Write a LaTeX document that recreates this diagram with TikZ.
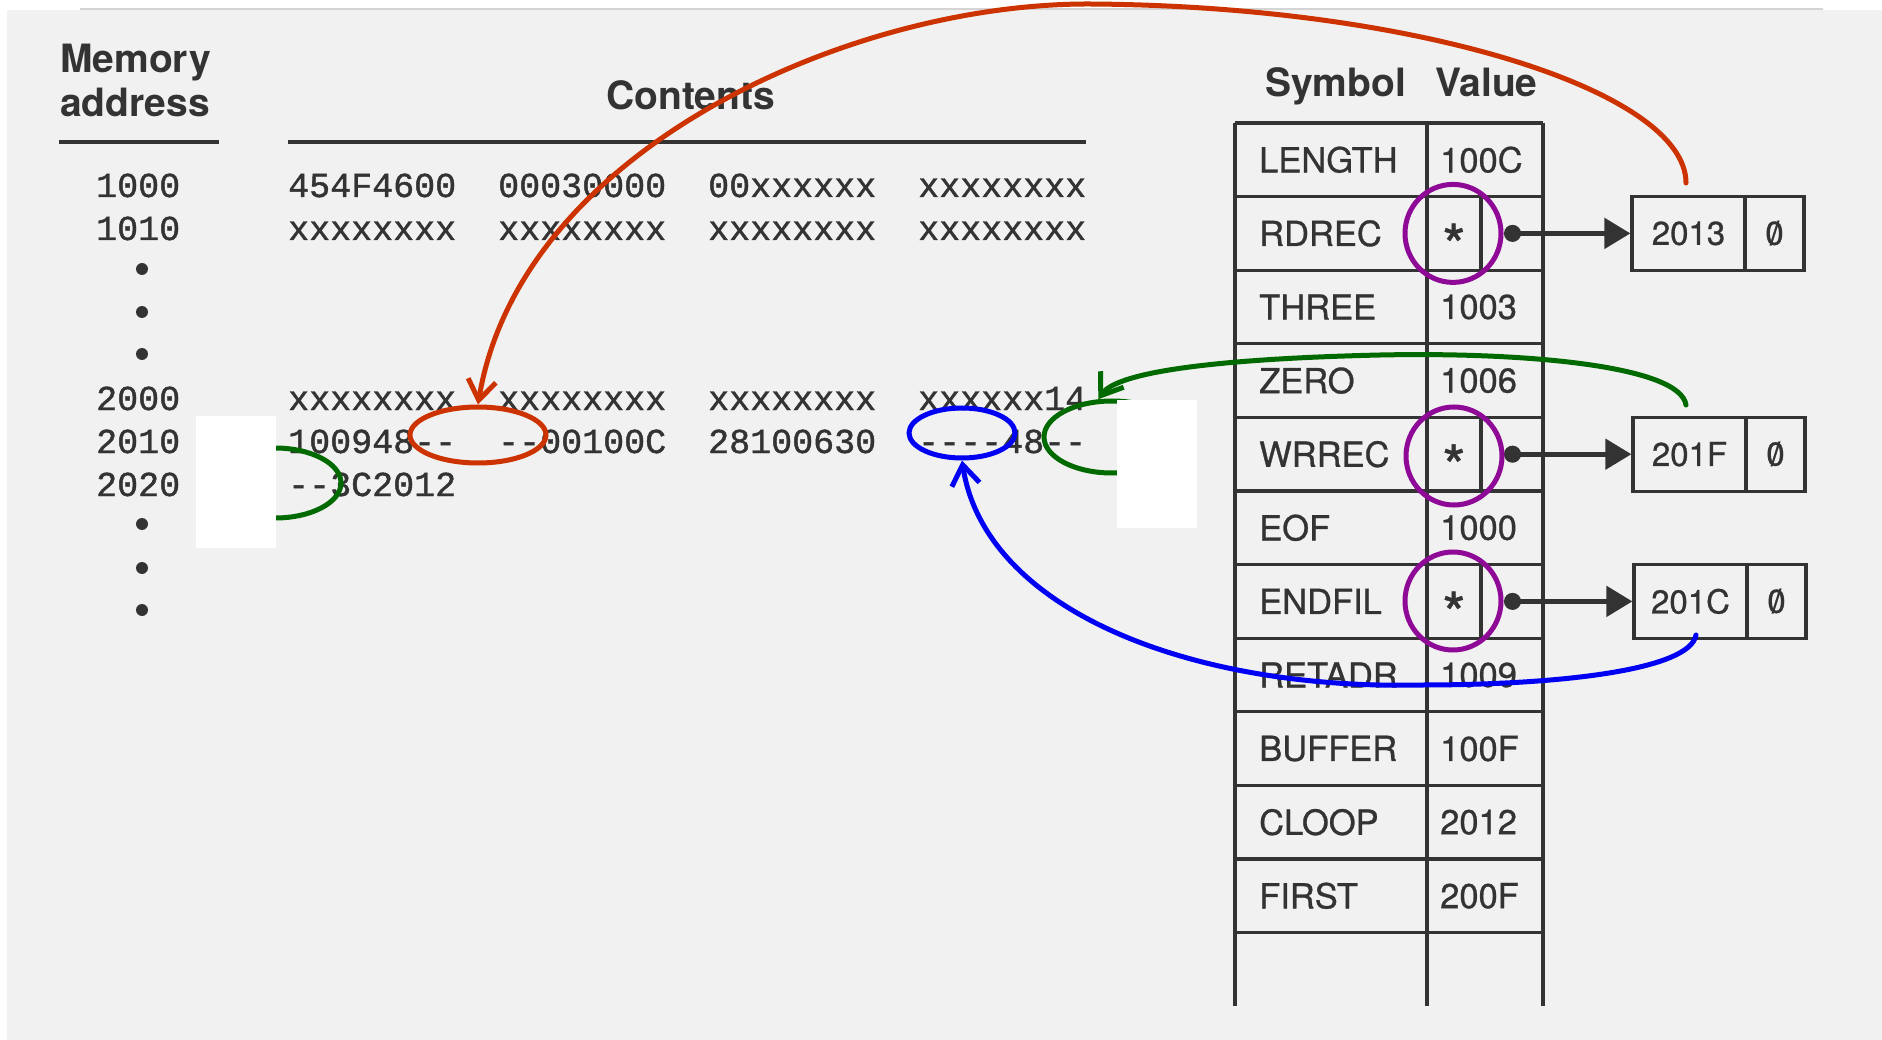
\documentclass[tikz,border=0pt]{standalone}
\usepackage{fontspec}
\setmainfont{TeX Gyre Heros}
\newfontfamily\memfont{Liberation Mono}[FakeBold=1.2]
\newfontfamily\tblfont{TeX Gyre Heros}[FakeBold=0.8]
\usetikzlibrary{arrows.meta,shapes.geometric}
\definecolor{ink}{HTML}{333333}
\definecolor{paper}{HTML}{F1F1F1}
\definecolor{topline}{HTML}{D4D4D4}
\definecolor{redc}{HTML}{CC3300}
\definecolor{greenc}{HTML}{006A00}
\definecolor{bluec}{HTML}{0000F2}
\definecolor{purc}{HTML}{8E0A96}
\newcommand\zsl{\ooalign{0\cr\hidewidth/\hidewidth\cr}}
\newcommand\hy{\mbox{-}}
\begin{document}
\begin{tikzpicture}[x=1pt,y=-1pt,
  hdr/.style={font=\fontsize{39}{41}\selectfont\bfseries, text=ink, inner sep=0pt, anchor=base west},
  mem/.style={font=\memfont\fontsize{35}{36}\selectfont, text=ink, inner sep=0pt, anchor=base west},
  symtxt/.style={font=\tblfont\fontsize{34.5}{36}\selectfont, text=ink, inner sep=0pt, anchor=west},
  startxt/.style={font=\tblfont\fontsize{60}{60}\selectfont, text=ink, inner sep=0pt, anchor=base},
  rulestyle/.style={line width=3.5pt, draw=ink},
  tbl/.style={line width=3.2pt, draw=ink},
  cellbox/.style={draw=ink, line width=3.2pt, minimum height=74pt, inner sep=0pt, font=\tblfont\fontsize{33}{35}\selectfont, text=ink},
  ptr/.style={line width=5pt, draw=ink, {Circle[length=17pt]}-{Triangle[length=26pt,width=30pt]}},
  ring/.style={ellipse, draw, line width=5pt, inner sep=0pt},
  curvearr/.style={line width=5pt, line cap=round, -{Straight Barb[length=20pt,width=28pt]}},
]
\useasboundingbox (0,0) rectangle (1882,1040);
\fill[white] (0,0) rectangle (1882,1040);
\fill[paper] (7,10) rectangle (1882,1040);
\draw[line width=2pt, topline] (80,9) -- (1823,9);

% headers
\node[hdr] (hmem) at (60,73) {Memory};
\node[hdr] (haddr) at (60,117) {address};
\draw[rulestyle] (59,142) -- (219,142);
\node[hdr] (hcont) at (606,110) {Contents};
\draw[rulestyle] (288,142) -- (1086,142);
\node[hdr] (hsym) at (1265,97) {Symbol};
\node[hdr] (hval) at (1435,97) {Value};

% memory rows
\node[mem] (a1000) at (96,197) {1000};
\node[mem] (c1000a) at (288,197) {454F4600};
\node[mem] (c1000b) at (498,197) {00030000};
\node[mem] (c1000c) at (708,197) {00xxxxxx};
\node[mem] (c1000d) at (918,197) {xxxxxxxx};
\node[mem] (a1010) at (96,240) {1010};
\node[mem] (c1010a) at (288,240) {xxxxxxxx};
\node[mem] (c1010b) at (498,240) {xxxxxxxx};
\node[mem] (c1010c) at (708,240) {xxxxxxxx};
\node[mem] (c1010d) at (918,240) {xxxxxxxx};
\node[mem] (a2000) at (96,410) {2000};
\node[mem] (c2000a) at (288,410) {xxxxxxxx};
\node[mem] (c2000b) at (498,410) {xxxxxxxx};
\node[mem] (c2000c) at (708,410) {xxxxxxxx};
\node[mem] (c2000d) at (918,410) {xxxxxx14};
\node[mem] (a2010) at (96,453) {2010};
\node[mem] (c2010a) at (288,453) {100948\hy\hy};
\node[mem] (c2010b) at (498,453) {\hy\hy00100C};
\node[mem] (c2010c) at (708,453) {28100630};
\node[mem] (c2010d) at (918,453) {\hy\hy\hy\hy48\hy\hy};
\node[mem] (a2020) at (96,496) {2020};
\node[mem] (c2020a) at (288,496) {\hy\hy3C2012};
\foreach \yy in {269,312,354,524,568,610} \fill[ink] (142,\yy) circle[radius=6pt];

% symbol table grid
\foreach \k in {0,...,11} { \draw[tbl] (1235,{123+73.6*\k}) -- (1543,{123+73.6*\k}); }
\draw[tbl] (1235,123) -- (1235,1006);
\draw[tbl] (1427,123) -- (1427,1006);
\draw[tbl] (1543,123) -- (1543,1006);
\foreach \k in {1,4,6} { \draw[tbl] (1481,{123+73.6*\k}) -- (1481,{123+73.6*(\k+1)}); }

\foreach \k/\s/\v in {0/LENGTH/100C, 2/THREE/1003, 3/ZERO/1006, 5/EOF/1000, 7/RETADR/1009, 8/BUFFER/100F, 9/CLOOP/2012, 10/FIRST/200F} {
  \node[symtxt] (sym\s) at (1259,{159.8+73.6*\k}) {\s};
  \node[symtxt] (val\s) at (1440,{159.8+73.6*\k}) {\v};
}
\foreach \k/\s in {1/RDREC, 4/WRREC, 6/ENDFIL} {
  \node[symtxt] (sym\s) at (1259,{159.8+73.6*\k}) {\s};
  \node[startxt] (star\s) at (1454,{159.8+73.6*\k+34}) {*};
}

% linked boxes
\node[cellbox, minimum width=113pt] (b2013) at (1688.5,233.4) {2013};
\node[cellbox, minimum width=59pt] (z2013) at (1774.5,233.4) {\zsl};
\node[cellbox, minimum width=113pt] (b201F) at (1689.5,454.2) {201F};
\node[cellbox, minimum width=59pt] (z201F) at (1775.5,454.2) {\zsl};
\node[cellbox, minimum width=113pt] (b201C) at (1690.5,601.4) {201C};
\node[cellbox, minimum width=59pt] (z201C) at (1776.5,601.4) {\zsl};

\coordinate (dotA) at (1504,233.4);
\coordinate (dotB) at (1504,454.2);
\coordinate (dotC) at (1504,601.4);
\draw[ptr] (dotA) -- (b2013.west);
\draw[ptr] (dotB) -- (b201F.west);
\draw[ptr] (dotC) -- (b201C.west);

% rings
\node[ring, draw=purc, minimum width=96pt, minimum height=98pt] (pRDREC) at (1453,233.4) {};
\node[ring, draw=purc, minimum width=96pt, minimum height=98pt] (pWRREC) at (1454,456) {};
\node[ring, draw=purc, minimum width=96pt, minimum height=98pt] (pENDFIL) at (1453,601) {};
\node[ring, draw=redc, minimum width=136pt, minimum height=56pt] (redring) at (478,435) {};
\node[ring, draw=bluec, minimum width=106pt, minimum height=50pt] (bluering) at (962,433) {};
\node[ring, draw=greenc, minimum width=132pt, minimum height=70pt] (greenL) at (275,483) {};
\node[ring, draw=greenc, minimum width=136pt, minimum height=72pt] (greenR) at (1112,437) {};

% white patches
\fill[white] (196,416) rectangle (276,548);
\fill[white] (1117,400) rectangle (1197,528);

% coloured arrows
\coordinate (redstart) at (1686,183);
\coordinate (greenstart) at (1686,405);
\coordinate (bluestart) at (1696,635);
\draw[curvearr, redc] (redstart) .. controls (1686,92) and (1420,6) .. (1090,4) .. controls (850,3) and (520,150) .. (redring.north);
\draw[curvearr, greenc] (greenstart) .. controls (1680,365) and (1520,352) .. (1380,355) .. controls (1250,358) and (1120,368) .. (greenR.110);
\draw[curvearr, bluec] (bluestart) .. controls (1690,670) and (1560,685) .. (1420,685) .. controls (1190,690) and (985,610) .. (bluering.south);
\end{tikzpicture}
\end{document}
